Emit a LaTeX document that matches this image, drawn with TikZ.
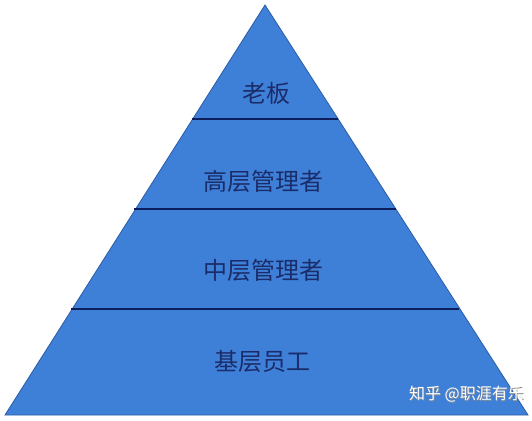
\documentclass[tikz,border=0pt]{standalone}
\usepackage{fontspec}
\newfontfamily\cjk{Noto Sans CJK SC}
\definecolor{pyrfill}{HTML}{3E80D8}
\definecolor{pyredge}{HTML}{2A5CA8}
\definecolor{divline}{HTML}{0C1E5E}
\definecolor{txtcol}{HTML}{1B2C6A}
\tikzset{
  lvl/.style={font=\cjk\fontsize{24}{24}\selectfont, text=txtcol, inner sep=0pt},
  divider/.style={draw=divline, line width=2.6pt},
  wm/.style={font=\cjk\fontsize{16}{16}\selectfont, text=white, inner sep=0pt},
  wmshadow/.style={font=\cjk\fontsize{16}{16}\selectfont, text=black!45, inner sep=0pt}
}
\begin{document}
\begin{tikzpicture}[x=1pt,y=-1pt]
\useasboundingbox (0,0) rectangle (532,420);
\fill[white] (0,0) rectangle (532,420);
\coordinate (apex) at (265,5);
\coordinate (bl) at (5,415);
\coordinate (br) at (528,415);
\filldraw[fill=pyrfill, draw=pyredge, line width=0.8pt] (apex) -- (br) -- (bl) -- cycle;
% dividers
\coordinate (l1a) at (192,119); \coordinate (l1b) at (338,119);
\coordinate (l2a) at (134,209); \coordinate (l2b) at (396,209);
\coordinate (l3a) at (71,309);  \coordinate (l3b) at (459,309);
\draw[divider] (l1a) -- (l1b);
\draw[divider] (l2a) -- (l2b);
\draw[divider] (l3a) -- (l3b);
% labels
\node[lvl] (boss) at (266,93) {老板};
\node[lvl] (senior) at (263,181) {高层管理者};
\node[lvl] (middle) at (263,270) {中层管理者};
\node[lvl] (staff) at (262,361) {基层员工};
% watermark
\node[wmshadow, anchor=east] (wms) at (524.8,394.8) {知乎 @职涯有乐};
\node[wm, anchor=east] (wmark) at (524,394) {知乎 @职涯有乐};
\end{tikzpicture}
\end{document}
